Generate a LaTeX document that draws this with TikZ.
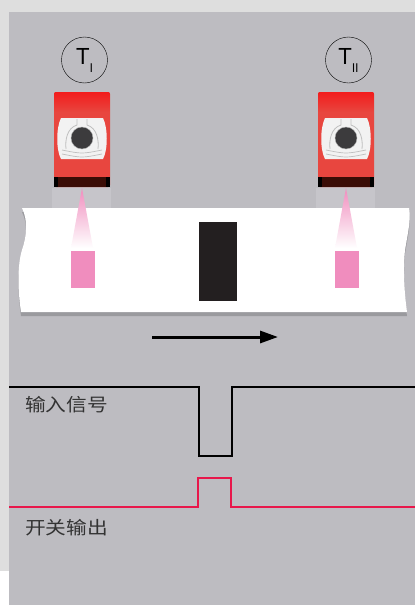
\documentclass[tikz,border=0pt]{standalone}
\usepackage{fontspec}
\newfontfamily\heros{TeX Gyre Heros}
\newfontfamily\cjk{Noto Sans CJK SC}
\usetikzlibrary{arrows.meta}
\definecolor{panelgray}{HTML}{BDBCC1}
\definecolor{framegray}{HTML}{DEDEDE}
\definecolor{sensorred}{HTML}{E8463F}
\definecolor{sensortop}{HTML}{F21C1C}
\definecolor{facewhite}{HTML}{F2F2F2}
\definecolor{beampink}{HTML}{F08DBE}
\definecolor{outred}{HTML}{E8174B}
\definecolor{lensgray}{HTML}{3C3B3D}
\definecolor{basebrown}{HTML}{3B0D06}
\definecolor{blockblack}{HTML}{231F20}

\newcommand\tlabel[1]{{\heros\fontsize{22}{22}\selectfont T\raisebox{-8pt}{\fontsize{12}{12}\selectfont #1}}}

\tikzset{
  label circle/.style={circle,draw,thin,minimum size=46pt,inner sep=0pt},
  signal text/.style={font=\cjk\fontsize{18}{18}\selectfont,text=black!80,
    anchor=west,inner sep=0pt},
  signal line/.style={line width=1.8pt,line join=miter},
}

\begin{document}
\begin{tikzpicture}[x=1pt,y=-1pt]
\useasboundingbox (0,0) rectangle (415,605);
\fill[white] (0,0) rectangle (415,605);
\fill[framegray] (0,0) rectangle (415,571);
\fill[panelgray] (9,12) rectangle (415,605);

% tape
\fill[white,preaction={fill=black,opacity=0.18,transform canvas={yshift=-4pt}}]
  (22,208) .. controls (28,220) and (27,236) .. (22,250)
  .. controls (17,266) and (18,292) .. (21,312) -- (407,312)
  .. controls (404,290) and (403,268) .. (405,250)
  .. controls (408,232) and (411,220) .. (409,208) -- cycle;
\fill[blockblack] (199,222) rectangle (237,301);

% sensors with their beams
\foreach \sx/\name/\lab in {82/t1/I,346/t2/II}{
  \node[label circle] (\name) at (\sx+2.5,60) {\tlabel{\lab}};
  \fill[sensorred,rounded corners=2pt] (\sx-28,92) rectangle (\sx+28,187);
  \shade[top color=sensortop,bottom color=sensorred,rounded corners=2pt]
    (\sx-28,92) rectangle (\sx+28,112);
  \fill[facewhite] (\sx-21,118) -- (\sx+21,118)
    .. controls (\sx+26,128) and (\sx+26,150) .. (\sx+21,159) -- (\sx-21,159)
    .. controls (\sx-26,150) and (\sx-26,128) .. (\sx-21,118) -- cycle;
  \draw[gray!50,line width=0.8pt] (\sx-5,119) -- (\sx-5,125)
    .. controls (\sx-15,128) and (\sx-17,140) .. (\sx-16,149);
  \draw[gray!50,line width=0.8pt] (\sx+5,119) -- (\sx+5,125)
    .. controls (\sx+15,128) and (\sx+17,140) .. (\sx+16,149);
  \draw[gray!50,line width=0.7pt] (\sx-20,150) .. controls (\sx,154) .. (\sx+20,150);
  \draw[gray!50,line width=0.7pt] (\sx-20,154) .. controls (\sx,158) .. (\sx+20,154);
  \fill[lensgray,draw=gray!60] (\sx,138) circle (11);
  \fill[basebrown] (\sx-28,177) rectangle (\sx+28,187);
  \fill[black] (\sx-28,177) rectangle (\sx-24,187);
  \fill[black] (\sx+24,177) rectangle (\sx+28,187);
  \fill[white,opacity=0.15] (\sx-30,188) rectangle (\sx+29,288);
  \shade[top color=beampink,bottom color=white] (\sx,188) -- (\sx+11,248) -- (\sx-11,248) -- cycle;
  \fill[beampink] (\sx-11.5,251) rectangle (\sx+12.5,288);
}

% direction of motion
\coordinate (movestart) at (152,337);
\coordinate (moveend) at (278,337);
\draw[line width=3pt,-{Triangle[length=18pt,width=12pt]}] (movestart) -- (moveend);

% input signal and switch output
\draw[signal line,black] (9,387) -- (199,387) -- (199,456) -- (232,456) -- (232,387) -- (415,387);
\draw[signal line,outred] (9,507) -- (198,507) -- (198,478) -- (231,478) -- (231,507) -- (415,507);
\node[signal text] (insig) at (25,405) {\scalebox{1.15}[1]{输入信号}};
\node[signal text] (outsig) at (25,528) {\scalebox{1.15}[1]{开关输出}};
\end{tikzpicture}
\end{document}
